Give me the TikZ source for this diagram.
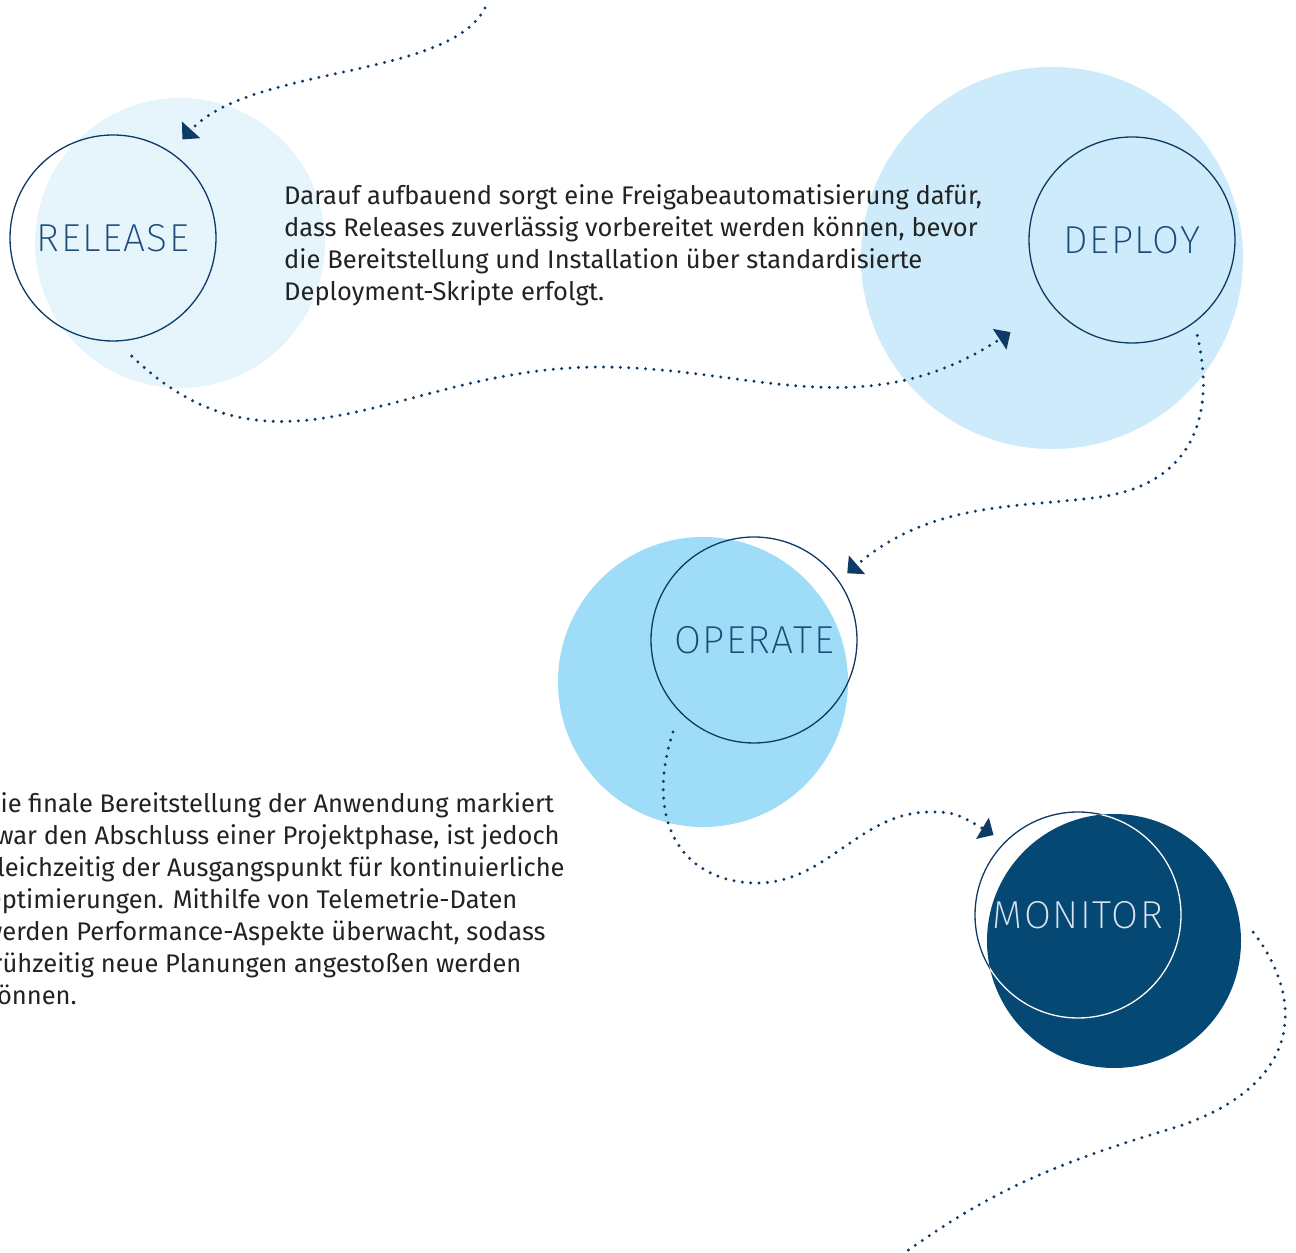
\documentclass[tikz,border=0pt]{standalone}
\usepackage{fontspec}
\IfFontExistsTF{Fira Sans Book}
  {\setmainfont{Fira Sans Book}}
  {\setmainfont{Fira Sans}}
\IfFontExistsTF{Fira Sans ExtraLight}
  {\newfontfamily\stagefont{Fira Sans ExtraLight}[LetterSpace=4]}
  {\newfontfamily\stagefont{Fira Sans}[LetterSpace=4]}
\usetikzlibrary{arrows.meta}
\definecolor{navy}{HTML}{0D3A66}
\definecolor{labelblue}{HTML}{1D4B78}
\definecolor{ink}{HTML}{222222}
\definecolor{releasebg}{HTML}{E6F4FC}
\definecolor{deploybg}{HTML}{CDEBFA}
\definecolor{operatebg}{HTML}{9FDCF7}
\definecolor{monitorbg}{HTML}{064874}
\definecolor{monitortext}{HTML}{D8E4EE}
\begin{document}
\begin{tikzpicture}
        [x=1pt, y=1pt,
        stage/.style={circle, draw=navy, line width=1.3pt, minimum size=206pt, inner sep=0pt,
          text=labelblue, font=\stagefont\fontsize{39}{39}\selectfont},
        blob/.style={circle, inner sep=0pt},
        flow/.style={navy, line width=3.3pt, line cap=round, dash pattern=on 0pt off 8.4pt,
          -{Triangle[width=24pt,length=13pt]}},
        note/.style={align=left, inner sep=0pt, text=ink, font=\fontsize{25.5}{32}\selectfont},
        ]
        \useasboundingbox (0,0) rectangle (1296,1253);
        \clip (0,0) rectangle (1296,1253);
        % background discs
        \node[blob, fill=releasebg, minimum size=290pt] (release-bg) at (180,1010) {};
        \node[blob, fill=deploybg, minimum size=382pt] (deploy-bg) at (1052,995) {};
        \node[blob, fill=operatebg, minimum size=290pt] (operate-bg) at (703,571) {};
        \node[blob, fill=monitorbg, minimum size=254pt] (monitor-bg) at (1114,312) {};
        % stages
        \node[stage] (release) at (113,1015) {RELEASE};
        \node[stage] (deploy) at (1132,1013) {DEPLOY};
        \node[stage] (operate) at (754,613) {OPERATE};
        \node[stage, text=monitortext] (monitor) at (1078,338) {MONITOR};
        \begin{scope}
          \clip (monitor-bg.center) circle (127);
          \draw[white, line width=1.3pt] (monitor.center) circle (103);
        \end{scope}
        % texts (base = last line)
        \node[note, anchor=base west] (release-text) at (284,952)
          {Darauf aufbauend sorgt eine Freigabeautomatisierung dafür,\\
           dass Releases zuverlässig vorbereitet werden können, bevor\\
           die Bereitstellung und Installation über standardisierte\\
           Deployment-Skripte erfolgt.};
        \node[note, anchor=base west] (operate-text) at (-16,248)
          {Die finale Bereitstellung der Anwendung markiert\\
           zwar den Abschluss einer Projektphase, ist jedoch\\
           gleichzeitig der Ausgangspunkt für kontinuierliche\\
           Optimierungen. Mithilfe von Telemetrie-Daten\\
           werden Performance-Aspekte überwacht, sodass\\
           frühzeitig neue Planungen angestoßen werden\\
           können.};
        % flow
        \coordinate (from-top) at (485,1245);
        \coordinate (w-rd) at (600,886);
        \coordinate (w-do) at (1100,756);
        \coordinate (w-op) at (757,370);
        \coordinate (w-op2) at (930,441);
        \coordinate (w-mo) at (1167,123);
        \coordinate (to-bottom) at (900,-3);
        \draw[flow, shorten >=17pt] (from-top) .. controls +(-36,-71) and +(79,87) .. (release.56);
        \draw[flow, shorten <=21pt, shorten >=49pt] (release.-88)
          .. controls +(161,-155) and +(-200,0) .. (w-rd)
          .. controls +(150,0) and +(-187,-123) .. (deploy.219);
        \draw[flow, shorten <=13pt, shorten >=11pt] (deploy.-53)
          .. controls +(25,-109) and +(79,11) .. (w-do)
          .. controls +(-79,-11) and +(92,80) .. (operate.35);
        \draw[flow, shorten <=21pt, shorten >=13pt] (operate.224)
          .. controls +(-37,-115) and +(-70,0) .. (w-op)
          .. controls +(70,0) and +(-70,0) .. (w-op2)
          .. controls +(20,0) and +(-50,30) .. (monitor.135);
        \draw[flow, -, shorten <=25pt] (monitor-bg.13)
          .. controls +(70,-91) and +(134,40) .. (w-mo)
          .. controls +(-125,-37) and +(81,58) .. (to-bottom);
\end{tikzpicture}
\end{document}
